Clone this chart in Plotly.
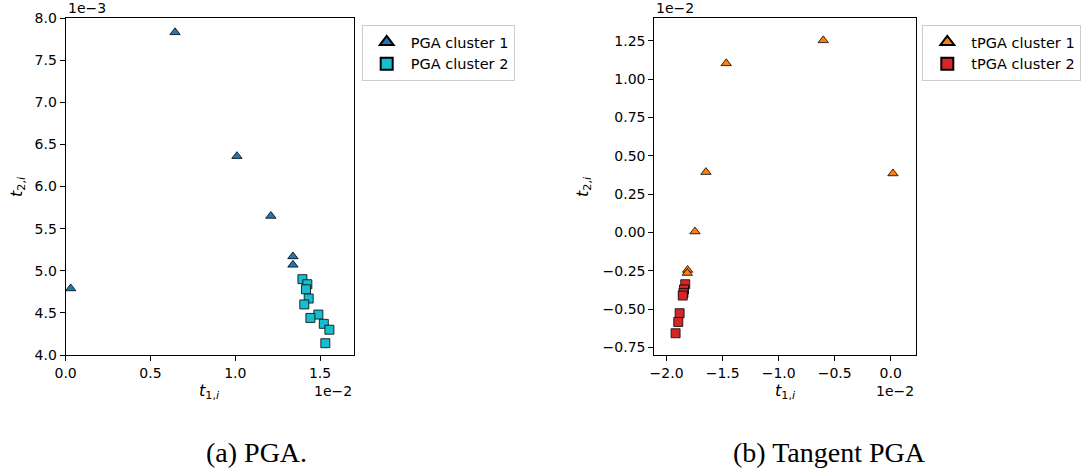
import plotly.graph_objects as go

# ---------------- data (axis units: t1 in 1e-2, t2 in 1e-3 / 1e-2) ----------------
pga_c1_t1 = [0.03, 0.645, 1.01, 1.21, 1.34, 1.34]
pga_c1_t2 = [4.79, 7.83, 6.36, 5.65, 5.17, 5.07]
pga_c2_t1 = [1.396, 1.425, 1.417, 1.433, 1.407, 1.490, 1.443, 1.522, 1.555, 1.531]
pga_c2_t2 = [4.90, 4.84, 4.78, 4.67, 4.60, 4.48, 4.44, 4.37, 4.30, 4.14]

tpga_c1_t1 = [-0.602, -1.468, -1.649, 0.020, -1.747, -1.813, -1.816]
tpga_c1_t2 = [1.254, 1.104, 0.394, 0.385, 0.006, -0.245, -0.265]
tpga_c2_t1 = [-1.834, -1.845, -1.850, -1.856, -1.884, -1.896, -1.920]
tpga_c2_t2 = [-0.338, -0.372, -0.395, -0.412, -0.527, -0.584, -0.658]

left_xticks = [0.0, 0.5, 1.0, 1.5]
left_yticks = [4.0, 4.5, 5.0, 5.5, 6.0, 6.5, 7.0, 7.5, 8.0]
right_xticks = [-2.0, -1.5, -1.0, -0.5, 0.0]
right_yticks = [-0.75, -0.5, -0.25, 0.0, 0.25, 0.5, 0.75, 1.0, 1.25]

labels = ["PGA cluster 1", "PGA cluster 2", "tPGA cluster 1", "tPGA cluster 2"]
colors = ["#1f77b4", "#17becf", "#ff7f0e", "#d62728"]

W, H = 1089, 473


def fmt(v, nd):
    s = f"{v:.{nd}f}"
    return s.replace("-", "\u2212")


fig = go.Figure()
edge = dict(color="black", width=0.8)
fig.add_trace(go.Scatter(x=pga_c1_t1, y=pga_c1_t2, mode="markers", name=labels[0],
                         marker=dict(symbol="triangle-up", size=9, color=colors[0], line=edge),
                         xaxis="x", yaxis="y", legend="legend"))
fig.add_trace(go.Scatter(x=pga_c2_t1, y=pga_c2_t2, mode="markers", name=labels[1],
                         marker=dict(symbol="square", size=9, color=colors[1], line=edge),
                         xaxis="x", yaxis="y", legend="legend"))
fig.add_trace(go.Scatter(x=tpga_c1_t1, y=tpga_c1_t2, mode="markers", name=labels[2],
                         marker=dict(symbol="triangle-up", size=9, color=colors[2], line=edge),
                         xaxis="x2", yaxis="y2", legend="legend2"))
fig.add_trace(go.Scatter(x=tpga_c2_t1, y=tpga_c2_t2, mode="markers", name=labels[3],
                         marker=dict(symbol="square", size=9, color=colors[3], line=edge),
                         xaxis="x2", yaxis="y2", legend="legend2"))

tickfont = dict(family="DejaVu Sans", size=14, color="black")
labfont = dict(family="DejaVu Sans", size=16, color="black")
legfont = dict(family="DejaVu Sans", size=14.5, color="black")
common = dict(showline=True, mirror=True, linecolor="black", linewidth=1,
              ticks="outside", ticklen=5, tickwidth=1, tickcolor="black",
              showgrid=False, zeroline=False, tickfont=tickfont, fixedrange=True,
              automargin=False)

# axes boxes in pixels
L1, R1 = 65.6, 354.0
L2, R2 = 654.3, 915.7
T, B = 18.0, 355.0
ydom = [1 - B / H, 1 - T / H]

fig.update_layout(
    width=W, height=H, autosize=False,
    margin=dict(l=0, r=0, t=0, b=0, pad=0),
    paper_bgcolor="white", plot_bgcolor="white",
    font=dict(family="DejaVu Sans", size=14, color="black"),
    xaxis=dict(domain=[L1 / W, R1 / W], range=[0, 1.7], anchor="y",
               tickvals=left_xticks, ticktext=[fmt(v, 1) for v in left_xticks], **common),
    yaxis=dict(domain=ydom, range=[4.0, 8.0], anchor="x",
               tickvals=left_yticks, ticktext=[fmt(v, 1) for v in left_yticks], **common),
    xaxis2=dict(domain=[L2 / W, R2 / W], range=[-2.11, 0.223], anchor="y2",
                tickvals=right_xticks, ticktext=[fmt(v, 1) for v in right_xticks], **common),
    yaxis2=dict(domain=ydom, range=[-0.80, 1.40], anchor="x2",
                tickvals=right_yticks, ticktext=[fmt(v, 2) for v in right_yticks], **common),
    legend=dict(x=361.7 / W, y=1 - 25 / H, xanchor="left", yanchor="top",
                bgcolor="white", bordercolor="#cccccc", borderwidth=1,
                font=legfont, itemsizing="constant", itemwidth=38),
    legend2=dict(x=922.3 / W, y=1 - 25 / H, xanchor="left", yanchor="top",
                 bgcolor="white", bordercolor="#cccccc", borderwidth=1,
                 font=legfont, itemsizing="constant", itemwidth=38),
    showlegend=True,
)

ann = []
# offset texts
ann.append(dict(text="1e\u22123", x=L1 / W, y=1 - T / H, xref="paper", yref="paper",
                xanchor="left", yanchor="bottom", showarrow=False, font=tickfont))
ann.append(dict(text="1e\u22122", x=L2 / W, y=1 - T / H, xref="paper", yref="paper",
                xanchor="left", yanchor="bottom", showarrow=False, font=tickfont))
ann.append(dict(text="1e\u22122", x=R1 / W, y=1 - 391 / H, xref="paper", yref="paper",
                xanchor="right", yanchor="middle", showarrow=False, font=tickfont))
ann.append(dict(text="1e\u22122", x=R2 / W, y=1 - 391 / H, xref="paper", yref="paper",
                xanchor="right", yanchor="middle", showarrow=False, font=tickfont))
# axis labels
xl = "<i>t</i><sub>1,<i>i</i></sub>"
yl = "<i>t</i><sub>2,<i>i</i></sub>"
ann.append(dict(text=xl, x=(L1 + R1) / 2 / W, y=1 - 391 / H, xref="paper", yref="paper",
                xanchor="center", yanchor="middle", showarrow=False, font=labfont))
ann.append(dict(text=xl, x=(L2 + R2) / 2 / W, y=1 - 391 / H, xref="paper", yref="paper",
                xanchor="center", yanchor="middle", showarrow=False, font=labfont))
ann.append(dict(text=yl, x=17 / W, y=1 - 187 / H, xref="paper", yref="paper",
                xanchor="center", yanchor="middle", textangle=-90, showarrow=False, font=labfont))
ann.append(dict(text=yl, x=583 / W, y=1 - 187 / H, xref="paper", yref="paper",
                xanchor="center", yanchor="middle", textangle=-90, showarrow=False, font=labfont))
# captions
capfont = dict(family="Liberation Serif", size=28, color="black")
ann.append(dict(text="(a) PGA.", x=256 / W, y=1 - 452 / H, xref="paper", yref="paper",
                xanchor="center", yanchor="middle", showarrow=False, font=capfont))
ann.append(dict(text="(b) Tangent PGA", x=829 / W, y=1 - 452 / H, xref="paper", yref="paper",
                xanchor="center", yanchor="middle", showarrow=False, font=capfont))
fig.update_layout(annotations=ann)

fig.write_html("out.html", config={"displayModeBar": False},
               post_script="document.body.style.margin='0';document.body.style.overflow='hidden';")
